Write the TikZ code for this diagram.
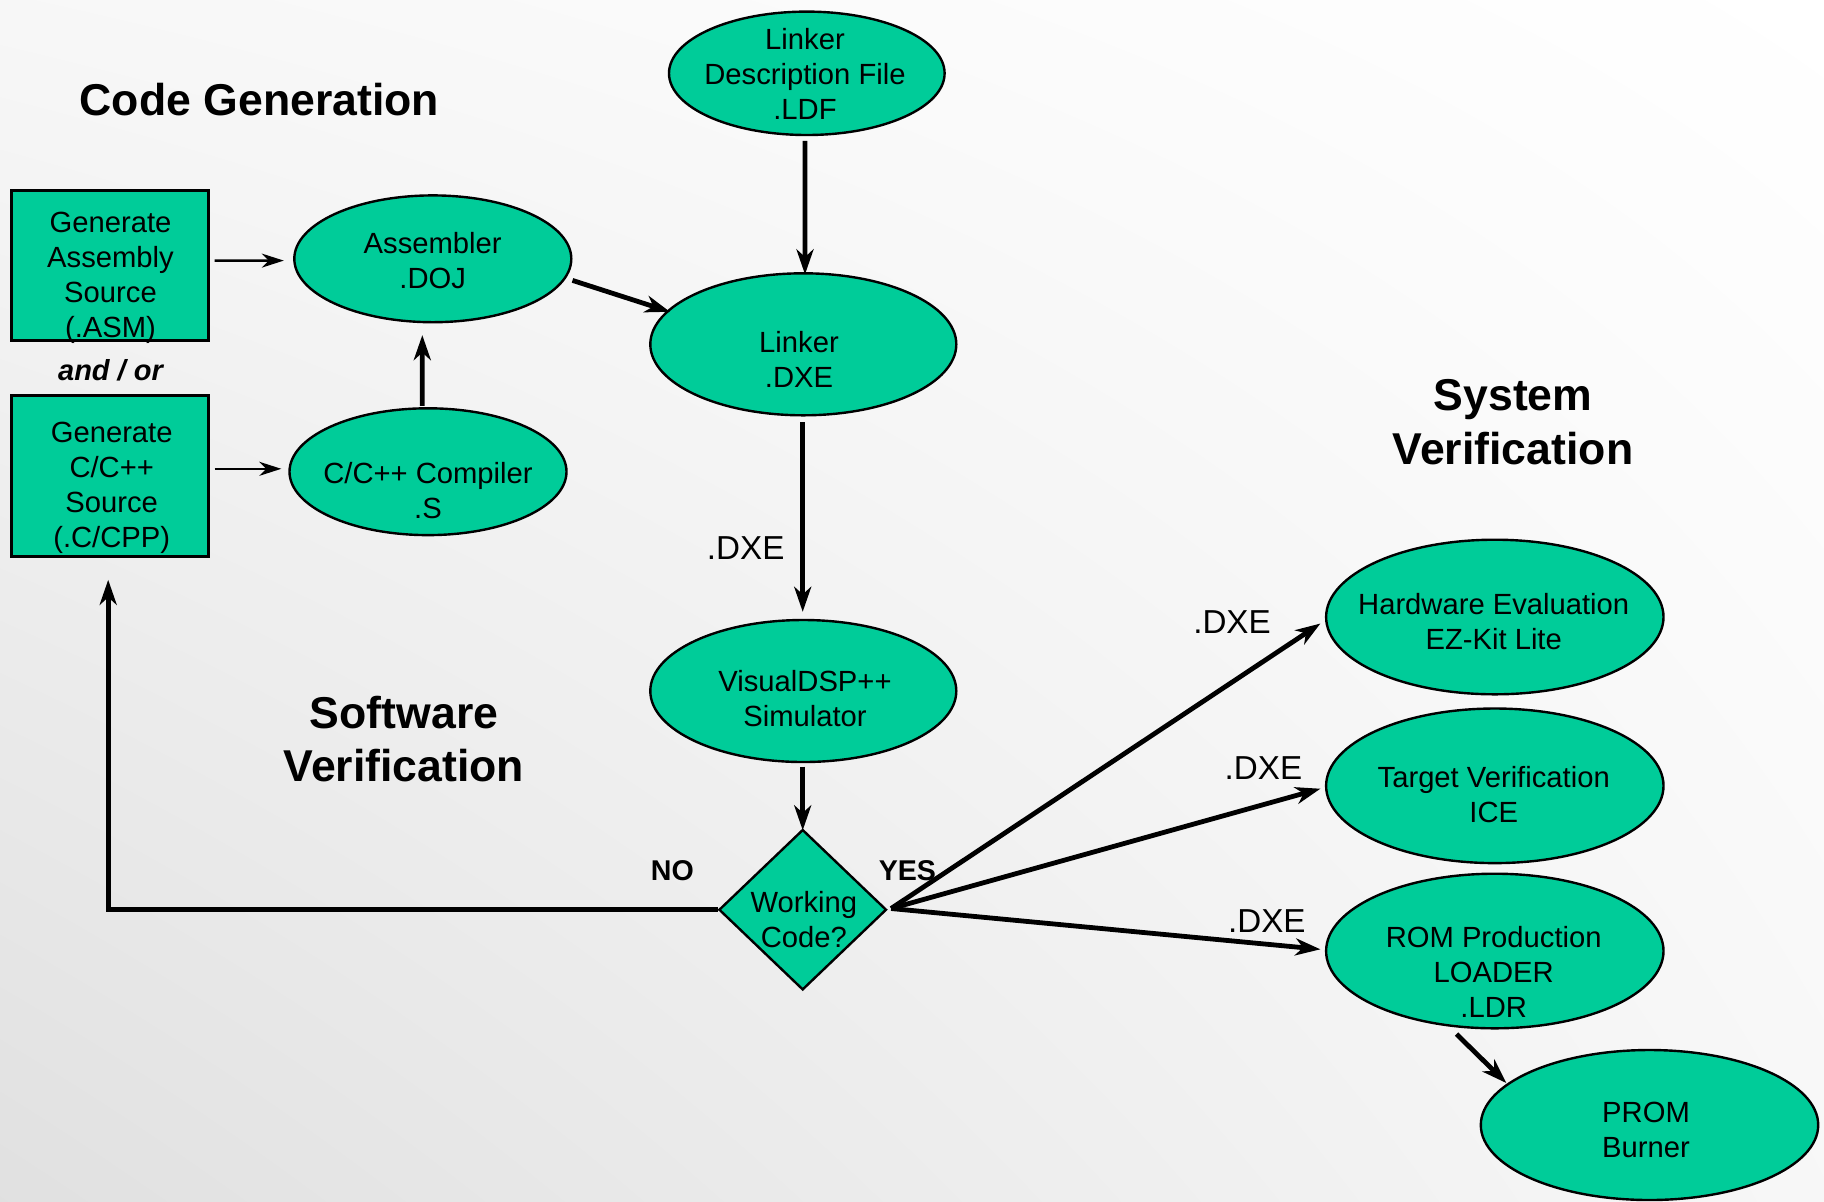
\documentclass[tikz,border=0pt]{standalone}
\usepackage{fontspec}
\setmainfont{Liberation Sans}
\usetikzlibrary{shapes.geometric,arrows.meta,shadings}
\definecolor{tealfill}{HTML}{00CC99}
\newcommand\nodefont{\fontsize{14.6pt}{17.5pt}\selectfont}
\newcommand\titlefont{\fontsize{22.3pt}{26.8pt}\selectfont\bfseries}
\newcommand\dxefont{\fontsize{16.6pt}{19pt}\selectfont}
\newcommand\ynfont{\fontsize{14.3pt}{17pt}\selectfont\bfseries}
\begin{document}
\begin{tikzpicture}[x=0.5pt,y=-0.5pt,
  ell/.style={ellipse, draw=black, line width=1.2pt, fill=tealfill, inner sep=0pt},
  srcbox/.style={rectangle, draw=black, line width=1.5pt, fill=tealfill, inner sep=0pt},
  dec/.style={diamond, draw=black, line width=1.2pt, fill=tealfill, inner sep=0pt},
  txt/.style={align=center, font=\nodefont, inner sep=0pt},
  ttl/.style={align=center, font=\titlefont, inner sep=0pt},
  dxe/.style={font=\dxefont, inner sep=0pt},
  yn/.style={font=\ynfont, inner sep=0pt},
  thickarrow/.style={line width=2.4pt, -{Stealth[length=12.5pt, width=8.5pt, inset=3.8pt]}},
  thinarrow/.style={line width=1.3pt, -{Stealth[length=11pt, width=7pt, inset=3.5pt]}}
]
\useasboundingbox (0,0) rectangle (1824,1201);
\shade[upper left=black!3, upper right=white, lower left=black!12, lower right=black!3] (0,0) rectangle (1824,1201);

% titles
\node[ttl] (tcg) at (259.4,100) {Code Generation};
\node[ttl] (tsv) at (1513,422) {System\\Verification};
\node[ttl] (tsw) at (404,739) {Software\\Verification};

% source boxes
\node[srcbox, minimum width=98.3pt, minimum height=75pt] (box1) at (110,265.8) {};
\node[txt] (b1t) at (110.5,278) {Generate\\Assembly\\Source\\(.ASM)};
\node[srcbox, minimum width=98.3pt, minimum height=80.3pt] (box2) at (110,475.8) {};
\node[txt] (b2t) at (111.7,487.5) {Generate\\C/C++\\Source\\(.C/CPP)};
\node[inner sep=0pt, font=\fontsize{14.5pt}{17pt}\selectfont\bfseries\itshape] (andor) at (110.5,370) {and / or};

% ellipses
\node[ell, minimum width=138.5pt, minimum height=63.4pt] (asm) at (432.8,258.8) {};
\node[txt] (asmt) at (432.7,260.6) {Assembler\\.DOJ};
\node[ell, minimum width=138.5pt, minimum height=63.4pt] (cc) at (428,471.7) {};
\node[txt] (cct) at (428,490.3) {C/C++ Compiler\\.S};
\node[ell, minimum width=137.8pt, minimum height=61.7pt] (ldf) at (806.8,73.3) {};
\node[txt] (ldft) at (805,73.8) {Linker\\Description File\\.LDF};
\node[ell, minimum width=153pt, minimum height=71pt] (lnk) at (803.3,344.3) {};
\node[txt] (lnkt) at (799,359.5) {Linker\\.DXE};
\node[ell, minimum width=153pt, minimum height=71pt] (sim) at (803.3,691) {};
\node[txt] (simt) at (805,698.5) {VisualDSP++\\Simulator};
\node[dec, minimum width=83.8pt, minimum height=80.2pt] (wc) at (802.7,909.7) {};
\node[txt] (wct) at (803.8,919.6) {Working\\Code?};
\node[ell, minimum width=168.7pt, minimum height=77.3pt] (hw) at (1494.8,617) {};
\node[txt] (hwt) at (1493.7,621.2) {Hardware Evaluation\\EZ-Kit Lite};
\node[ell, minimum width=168.7pt, minimum height=77.3pt] (tv) at (1494.8,785.8) {};
\node[txt] (tvt) at (1493.7,794.5) {Target Verification\\ICE};
\node[ell, minimum width=168.7pt, minimum height=77.3pt] (rom) at (1494.8,951) {};
\node[txt] (romt) at (1493.7,972) {ROM Production\\LOADER\\.LDR};
\node[ell, minimum width=168.7pt, minimum height=75pt] (prom) at (1649.5,1125) {};
\node[txt] (promt) at (1646,1130) {PROM\\Burner};

% labels
\node[dxe] (dxe1) at (745.7,548) {.DXE};
\node[dxe] (dxe2) at (1232,622.4) {.DXE};
\node[dxe] (dxe3) at (1263.4,767.8) {.DXE};
\node[dxe] (dxe4) at (1266.8,921.3) {.DXE};
\node[yn] (no) at (672.4,870.2) {NO};
\node[yn] (yes) at (907.4,870.2) {YES};

% connectors
\draw[thinarrow] ([shift={(4.8,-5.2)}]box1.east) -- ([shift={(-9.3,1.8)}]asm.west);
\draw[thinarrow] ([shift={(4.8,-7)}]box2.east) -- ([shift={(-7,-2.9)}]cc.west);
\draw[thickarrow] ([shift={(-5.7,-1.3)}]cc.north) -- ([shift={(-10.5,11.7)}]asm.south);
\draw[thickarrow] ([shift={(0,21.6)}]asm.east) -- ([shift={(20.9,-32.5)}]lnk.west);
\draw[thickarrow] ([shift={(-1.8,4.6)}]ldf.south) -- ([shift={(1.7,2.3)}]lnk.north);
\draw[thickarrow] ([shift={(-0.6,5.7)}]lnk.south) -- ([shift={(-0.6,-7)}]sim.north);
\draw[thickarrow] ([shift={(-0.6,3.5)}]sim.south) -- ([shift={(0,2)}]wc.north);
\draw[thickarrow] (wc.west) -| ([shift={(-1.8,22.2)}]box2.south);
\coordinate (yesstart) at ([shift={(3.4,-1.2)}]wc.east);
\draw[thickarrow] (yesstart) -- ([shift={(-4.5,6.5)}]hw.west);
\draw[thickarrow] (yesstart) -- ([shift={(-4.5,2.9)}]tv.west);
\draw[thickarrow] (yesstart) -- ([shift={(-4.5,-1.7)}]rom.west);
\draw[thickarrow] ([shift={(-38.3,4.6)}]rom.south) -- ([shift={(26.7,-42)}]prom.west);
\end{tikzpicture}
\end{document}
